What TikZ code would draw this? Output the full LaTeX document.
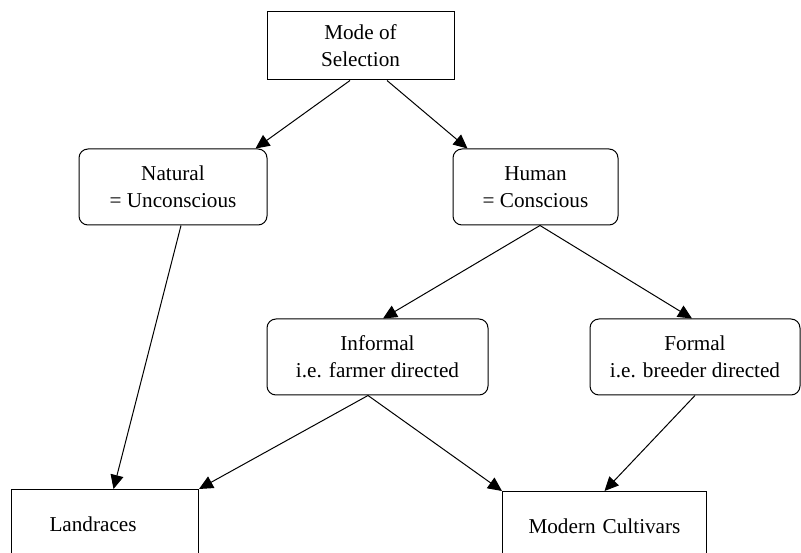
\documentclass[tikz,border=0pt]{standalone}
\usepackage{fontspec}
\setmainfont{Liberation Serif}
\usetikzlibrary{arrows.meta}
\begin{document}
\begin{tikzpicture}[x=1pt,y=1pt,
  every node/.style={font=\fontsize{21.2}{27}\selectfont, align=center, inner sep=0pt},
  sqbox/.style={draw, line width=1pt},
  rbox/.style={draw, line width=1pt, rounded corners=9pt},
  conn/.style={line width=1pt, -{Triangle[length=14pt,width=13pt]}}]
\clip (0,0) rectangle (801,-553);
\useasboundingbox (0,0) rectangle (801,-553);
\node[sqbox, minimum width=187pt, minimum height=68pt] (mode) at (360.5,-46) {Mode of\\Selection};
\node[rbox, minimum width=188pt, minimum height=76pt] (natural) at (173,-187) {Natural\\= Unconscious};
\node[rbox, minimum width=165pt, minimum height=76pt] (human) at (535.5,-187) {Human\\= Conscious};
\node[rbox, minimum width=221pt, minimum height=76pt] (informal) at (377.5,-357) {Informal\\i.e. farmer directed};
\node[rbox, minimum width=210pt, minimum height=76pt] (formal) at (695,-357) {Formal\\i.e. breeder directed};
\node[sqbox, anchor=north west, text width=111pt, inner xsep=38pt, align=left, minimum height=70pt] (landr) at (11,-489) {Landraces};
\node[sqbox, anchor=north west, text width=176pt, inner xsep=14pt, align=center, minimum height=70pt] (modern) at (502,-491) {Modern Cultivars};
\draw[conn] ([xshift=-10.5pt]mode.south) -- ([xshift=-12pt]natural.north east);
\draw[conn] ([xshift=26.5pt]mode.south) -- ([xshift=15pt]human.north west);
\draw[conn] ([xshift=8pt]natural.south) -- ([xshift=8.5pt]landr.north);
\draw[conn] ([xshift=4.5pt]human.south) -- ([xshift=5.5pt]informal.north);
\draw[conn] ([xshift=4.5pt]human.south) -- ([xshift=-3pt]formal.north);
\draw[conn] ([xshift=-9.5pt]informal.south) -- (landr.north east);
\draw[conn] ([xshift=-9.5pt]informal.south) -- (modern.north west);
\draw[conn] (formal.south) -- (modern.north);
\end{tikzpicture}
\end{document}
